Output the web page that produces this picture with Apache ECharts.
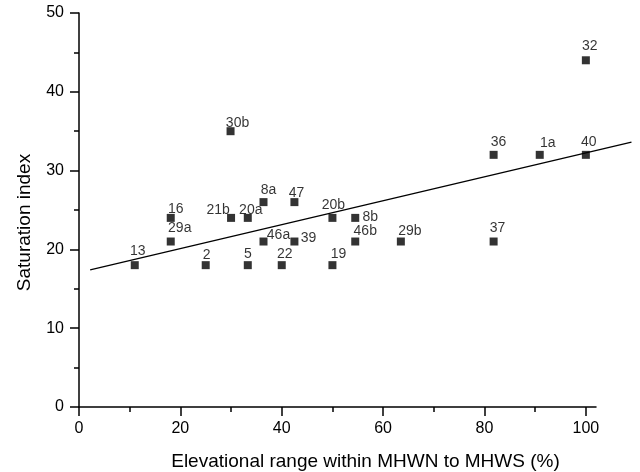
<!DOCTYPE html>
<html>
<head>
<meta charset="utf-8">
<script src="https://cdn.jsdelivr.net/npm/echarts@6/dist/echarts.min.js"></script>
<style>
  html, body { margin: 0; padding: 0; background: #fff; }
  #main { width: 640px; height: 472px; }
</style>
</head>
<body>
<div id="main"></div>
<script>
// site labels and their values
var sites = ['13', '16', '29a', '2', '21b', '30b', '20a', '5', '8a', '46a', '22', '47', '39',
  '20b', '19', '8b', '46b', '29b', '37', '36', '1a', '40', '32'];
var elevRange = [11, 18.1, 18.1, 25, 30, 29.9, 33.3, 33.3, 36.4, 36.4, 40, 42.5, 42.5,
  50, 50, 54.5, 54.5, 63.5, 81.8, 81.8, 90.9, 100, 100];
var satIndex = [18, 24, 21, 18, 24, 35, 24, 18, 26, 21, 18, 26, 21,
  24, 18, 24, 21, 21, 21, 32, 32, 32, 44];
// regression line end points (x1, y1, x2, y2)
var fitLine = [2.2, 17.4, 109, 33.6];
var xTicks = [0, 20, 40, 60, 80, 100];
var xMinorTicks = [10, 30, 50, 70, 90];

// label placement (offset from the marker centre, px)
var labelOffset = {
  '13': [3, -14], '16': [5, -9], '29a': [9, -13], '2': [1, -10], '21b': [-13, -8],
  '30b': [7, -8], '20a': [3, -8], '5': [0, -11], '8a': [5, -12], '46a': [15, -6],
  '22': [3, -11], '47': [2, -9], '39': [14, -3], '20b': [1, -13], '19': [6, -11],
  '8b': [15, -1], '46b': [10, -10], '29b': [9, -10], '37': [4, -13], '36': [5, -13],
  '1a': [8, -12], '40': [3, -13], '32': [4, -14]
};

var font = 'Liberation Sans, Arial, sans-serif';
var chart = echarts.init(document.getElementById('main'));

var points = sites.map(function (s, i) {
  return {
    name: s,
    value: [elevRange[i], satIndex[i]],
    label: { offset: labelOffset[s] }
  };
});

var tickStyle = { color: '#000', width: 1.5 };

var option = {
  animation: false,
  textStyle: { fontFamily: font },
  grid: { left: 79, right: 44, top: 13, bottom: 65, outerBoundsMode: 'none' },
  xAxis: [{
    type: 'value',
    min: 0,
    max: 102,
    name: 'Elevational range within MHWN to MHWS (%)',
    nameLocation: 'middle',
    nameGap: 45,
    nameTextStyle: { fontSize: 19, color: '#000', padding: [0, 0, 0, 56] },
    axisLine: { onZero: false, lineStyle: tickStyle },
    axisTick: { customValues: xTicks, length: 9, lineStyle: tickStyle },
    axisLabel: { customValues: xTicks, fontSize: 16, color: '#000', margin: 14 },
    splitLine: { show: false }
  }, {
    // second axis only for the minor ticks
    type: 'value',
    min: 0,
    max: 102,
    gridIndex: 0,
    position: 'bottom',
    axisLine: { show: false },
    axisTick: { customValues: xMinorTicks, length: 5, lineStyle: tickStyle },
    axisLabel: { show: false },
    splitLine: { show: false }
  }],
  yAxis: {
    type: 'value',
    min: 0,
    max: 50,
    interval: 10,
    name: 'Saturation index',
    nameLocation: 'middle',
    nameGap: 45,
    nameTextStyle: { fontSize: 19, color: '#000', padding: [0, 25, 0, 0] },
    axisLine: { show: true, lineStyle: tickStyle },
    axisTick: { show: true, length: 9, lineStyle: tickStyle },
    minorTick: { show: true, splitNumber: 2, length: 5, lineStyle: tickStyle },
    axisLabel: { fontSize: 16, color: '#000', margin: 15 },
    splitLine: { show: false }
  },
  series: [{
    // fitted line, drawn past the end of the axis like the original
    type: 'custom',
    xAxisIndex: 0,
    data: [fitLine],
    encode: { x: [0, 2], y: [1, 3] },
    silent: true,
    renderItem: function (params, api) {
      var p1 = api.coord([api.value(0), api.value(1)]);
      var p2 = api.coord([api.value(2), api.value(3)]);
      return {
        type: 'line',
        shape: { x1: p1[0], y1: p1[1], x2: p2[0], y2: p2[1] },
        style: { stroke: '#000', lineWidth: 1.3 }
      };
    }
  }, {
    type: 'scatter',
    xAxisIndex: 0,
    data: points,
    symbol: 'rect',
    symbolSize: 8,
    itemStyle: { color: '#000' },
    label: {
      show: true,
      position: 'inside',
      formatter: '{b}',
      fontSize: 14,
      color: '#000',
      fontFamily: font
    }
  }]
};
chart.setOption(option);
</script>
</body>
</html>
